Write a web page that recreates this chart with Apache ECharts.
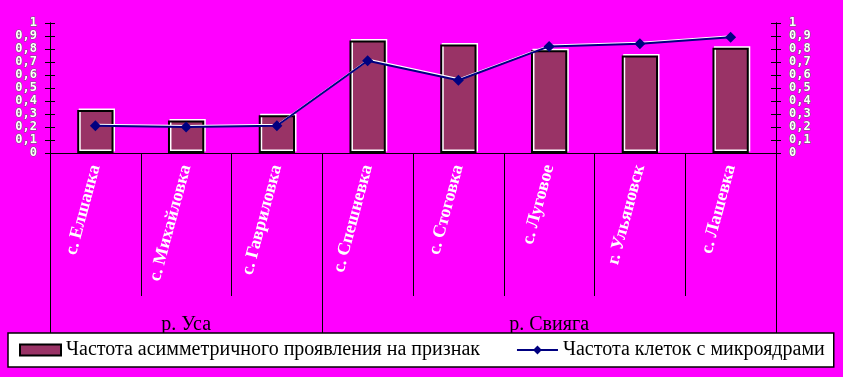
<!DOCTYPE html>
<html><head><meta charset="utf-8">
<script src="https://cdn.jsdelivr.net/npm/echarts@6/dist/echarts.min.js"></script>
<style>html,body{margin:0;padding:0;background:#ff00ff;}#c{width:843px;height:377px;}</style>
</head><body><div id="c"></div>
<script>
const categories = ['с. Елшанка','с. Михайловка','с. Гавриловка','с. Спешневка','с. Стоговка','с. Луговое','г. Ульяновск','с. Лашевка'];
const groupLabels = ['', 'р. Уса', '', '', '', 'р. Свияга', '', ''];
const groupStarts = [0, 3];
const asymmetry = [0.33, 0.25, 0.29, 0.865, 0.835, 0.79, 0.75, 0.81];
const micronuclei = [0.21, 0.20, 0.21, 0.71, 0.56, 0.82, 0.84, 0.89];
const seriesNames = ['Частота асимметричного проявления на признак', 'Частота клеток с микроядрами'];

const chart = echarts.init(document.getElementById('c'));
const yLabel = {
  fontFamily: 'DejaVu Sans Mono', fontSize: 12, fontWeight: 'bold', color: '#ffffff',
  textBorderColor: '#666666', textBorderWidth: 1, margin: 13,
  formatter: v => String(Math.round(v*10)/10).replace('.', ',')
};
function yAx(pos, inside, labels) {
  return {
    type: 'value', min: 0, max: 1, interval: 0.1, position: pos,
    axisLine: {show: true, lineStyle: {color: '#000', width: 1}},
    axisTick: {show: true, inside: inside, length: 5, lineStyle: {color: '#000', width: 1}},
    axisLabel: labels ? yLabel : {show: false},
    splitLine: {show: false}
  };
}
chart.setOption({
  backgroundColor: '#ff00ff',
  animation: false,
  grid: {left: 50, right: 67, top: 23, bottom: 224, containLabel: false},
  legend: {
    left: 8, top: 333,
    padding: [7, 9, 7, 11],
    itemGap: 36, itemWidth: 41, itemHeight: 11,
    backgroundColor: '#ffffff', borderColor: '#000000', borderWidth: 1.5,
    textStyle: {fontFamily: 'Liberation Serif', fontSize: 20, color: '#000'},
    data: [
      {name: seriesNames[0], icon: 'rect'},
      {name: seriesNames[1]}
    ]
  },
  xAxis: [
    {
      type: 'category', data: categories, position: 'bottom',
      axisLine: {show: true, lineStyle: {color: '#000', width: 1}},
      axisTick: {show: true, length: 143, interval: 0, lineStyle: {color: '#000', width: 1}},
      axisLabel: {
        interval: 0, rotate: 75, margin: 12,
        fontFamily: 'Liberation Serif', fontWeight: 'bold', fontSize: 18, color: '#ffffff'
      }
    },
    {
      type: 'category', data: categories, position: 'bottom',
      axisLine: {show: false},
      axisTick: {show: true, length: 180, interval: (i) => groupStarts.indexOf(i) >= 0, lineStyle: {color: '#000', width: 1}},
      axisLabel: {
        interval: (i) => groupLabels[i] !== '', margin: 162,
        formatter: (v, i) => groupLabels[i],
        fontFamily: 'Liberation Serif', fontSize: 20, color: '#000',
        textShadowColor: '#ffffff', textShadowOffsetX: 1, textShadowOffsetY: 1, textShadowBlur: 0
      }
    }
  ],
  yAxis: [yAx('left', false, true), yAx('left', true, false), yAx('right', false, true), yAx('right', true, false)],
  series: [
    {
      name: seriesNames[0], type: 'bar', data: asymmetry, barWidth: '40%', xAxisIndex: 0, yAxisIndex: 0,
      itemStyle: {color: '#993366', borderColor: '#000', borderWidth: 2,
        shadowColor: '#ffffff', shadowOffsetX: 1.5, shadowOffsetY: -1.5, shadowBlur: 0}
    },
    {
      name: seriesNames[1], type: 'line', data: micronuclei, xAxisIndex: 0, yAxisIndex: 2,
      symbol: 'diamond', symbolSize: 11,
      itemStyle: {color: '#000080'},
      lineStyle: {color: '#000080', width: 2, shadowColor: '#ffffff', shadowOffsetX: 1, shadowOffsetY: -1, shadowBlur: 0}
    }
  ]
});
</script></body></html>
